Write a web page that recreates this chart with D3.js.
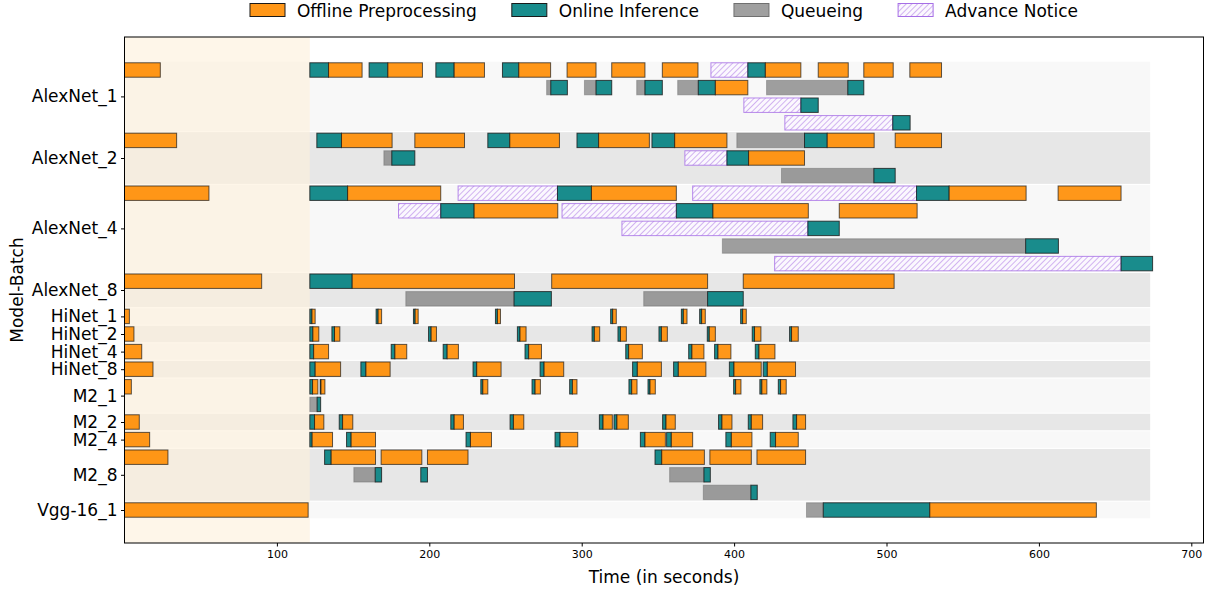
<!DOCTYPE html>
<html>
<head>
<meta charset="utf-8">
<script src="https://cdn.jsdelivr.net/npm/d3@7"></script>
<style>
  body { margin: 0; background: #fff; }
  svg { font-family: "DejaVu Sans", sans-serif; }
</style>
</head>
<body>
<script>
// Model-batch groups and how many lanes each one uses
const groups = ["AlexNet_1", "AlexNet_2", "AlexNet_4", "AlexNet_8", "HiNet_1", "HiNet_2", "HiNet_4", "HiNet_8", "M2_1", "M2_2", "M2_4", "M2_8", "Vgg-16_1"];
const laneCounts = [4, 3, 5, 2, 1, 1, 1, 1, 2, 1, 1, 3, 1];
const xTicks = [100, 200, 300, 400, 500, 600, 700];
const warmupEnd = 121.6;
const bandEnd = 673;

// [group, lane, start, end]
const offline = [
  ["AlexNet_1", 0, 0, 23.5], ["AlexNet_1", 0, 133.9, 155.9], ["AlexNet_1", 0, 172.8, 195.5], ["AlexNet_1", 0, 216.3, 236.2],
  ["AlexNet_1", 0, 258.7, 279.6], ["AlexNet_1", 0, 290.4, 309.4], ["AlexNet_1", 0, 319.7, 341.5], ["AlexNet_1", 0, 352.9, 376.3],
  ["AlexNet_1", 0, 420.5, 443.8], ["AlexNet_1", 0, 455.2, 474.9], ["AlexNet_1", 0, 485.1, 504.4], ["AlexNet_1", 0, 515.3, 536.1],
  ["AlexNet_1", 1, 387.7, 409.0],
  ["AlexNet_2", 0, 0, 34.2], ["AlexNet_2", 0, 142.4, 175.6], ["AlexNet_2", 0, 190.5, 223.1], ["AlexNet_2", 0, 252.8, 285.4],
  ["AlexNet_2", 0, 311.1, 344.4], ["AlexNet_2", 0, 361.0, 395.3], ["AlexNet_2", 0, 461.1, 491.9], ["AlexNet_2", 0, 505.7, 536.1],
  ["AlexNet_2", 1, 409.5, 446.2],
  ["AlexNet_4", 0, 0, 55.4], ["AlexNet_4", 0, 146.4, 207.5], ["AlexNet_4", 0, 306.4, 362.1], ["AlexNet_4", 0, 541.1, 591.6],
  ["AlexNet_4", 0, 612.6, 653.9],
  ["AlexNet_4", 1, 229.4, 284.3], ["AlexNet_4", 1, 386.1, 448.7], ["AlexNet_4", 1, 469.0, 520.1],
  ["AlexNet_8", 0, 0, 90.0], ["AlexNet_8", 0, 149.4, 255.9], ["AlexNet_8", 0, 280.3, 382.6], ["AlexNet_8", 0, 406.0, 505.0],
  ["HiNet_1", 0, 0, 3.2], ["HiNet_1", 0, 123.0, 125.1], ["HiNet_1", 0, 166.4, 168.7], ["HiNet_1", 0, 190.7, 192.7],
  ["HiNet_1", 0, 244.7, 246.7], ["HiNet_1", 0, 320.3, 322.7], ["HiNet_1", 0, 366.7, 369.1], ["HiNet_1", 0, 378.7, 381.1],
  ["HiNet_1", 0, 405.6, 408.0],
  ["HiNet_2", 0, 0, 6.2], ["HiNet_2", 0, 123.6, 127.5], ["HiNet_2", 0, 137.8, 141.3], ["HiNet_2", 0, 201.2, 204.7],
  ["HiNet_2", 0, 259.5, 263.5], ["HiNet_2", 0, 308.3, 311.8], ["HiNet_2", 0, 325.4, 329.3], ["HiNet_2", 0, 352.3, 356.2],
  ["HiNet_2", 0, 383.7, 387.7], ["HiNet_2", 0, 413.4, 417.6], ["HiNet_2", 0, 437.7, 442.1],
  ["HiNet_4", 0, 0, 11.3], ["HiNet_4", 0, 124.1, 133.9], ["HiNet_4", 0, 177.4, 185.2], ["HiNet_4", 0, 211.7, 219.1],
  ["HiNet_4", 0, 265.2, 273.6], ["HiNet_4", 0, 330.8, 339.8], ["HiNet_4", 0, 372.3, 380.2], ["HiNet_4", 0, 389.4, 397.9],
  ["HiNet_4", 0, 416.3, 426.8],
  ["HiNet_8", 0, 0, 18.7], ["HiNet_8", 0, 125.1, 141.8], ["HiNet_8", 0, 158.4, 174.3], ["HiNet_8", 0, 231.1, 247.1],
  ["HiNet_8", 0, 275.3, 288.2], ["HiNet_8", 0, 336.5, 352.3], ["HiNet_8", 0, 363.4, 381.5], ["HiNet_8", 0, 399.9, 417.8],
  ["HiNet_8", 0, 421.8, 440.3],
  ["M2_1", 0, 0, 4.5], ["M2_1", 0, 123.4, 126.9], ["M2_1", 0, 128.9, 131.5], ["M2_1", 0, 235.1, 238.4],
  ["M2_1", 0, 269.4, 272.9], ["M2_1", 0, 293.9, 296.9], ["M2_1", 0, 332.8, 336.3], ["M2_1", 0, 344.8, 348.3],
  ["M2_1", 0, 401.0, 404.5], ["M2_1", 0, 418.2, 421.5], ["M2_1", 0, 430.5, 434.2],
  ["M2_2", 0, 0, 9.7], ["M2_2", 0, 124.7, 130.8], ["M2_2", 0, 143.1, 149.8], ["M2_2", 0, 216.3, 222.4],
  ["M2_2", 0, 255.2, 262.0], ["M2_2", 0, 314.0, 320.1], ["M2_2", 0, 323.1, 330.6], ["M2_2", 0, 355.3, 361.4],
  ["M2_2", 0, 392.0, 398.6], ["M2_2", 0, 411.3, 418.7], ["M2_2", 0, 441.0, 446.9],
  ["M2_4", 0, 0, 16.5], ["M2_4", 0, 123.1, 136.5], ["M2_4", 0, 148.7, 164.7], ["M2_4", 0, 227.0, 240.8],
  ["M2_4", 0, 285.8, 297.4], ["M2_4", 0, 341.5, 354.9], ["M2_4", 0, 358.8, 372.8], ["M2_4", 0, 398.2, 411.7],
  ["M2_4", 0, 427.2, 442.1],
  ["M2_8", 0, 0, 28.5], ["M2_8", 0, 135.6, 164.7], ["M2_8", 0, 168.4, 195.1], ["M2_8", 0, 198.8, 225.4],
  ["M2_8", 0, 352.5, 380.5], ["M2_8", 0, 384.1, 411.3], ["M2_8", 0, 415.0, 446.9],
  ["Vgg-16_1", 0, 0, 120.5], ["Vgg-16_1", 0, 528.4, 637.7]
];

const online = [
  ["AlexNet_1", 0, 121.6, 133.9], ["AlexNet_1", 0, 160.5, 172.8], ["AlexNet_1", 0, 204.3, 216.3], ["AlexNet_1", 0, 248.0, 258.7],
  ["AlexNet_1", 0, 409.0, 420.5],
  ["AlexNet_1", 1, 279.7, 290.6], ["AlexNet_1", 1, 309.4, 319.7], ["AlexNet_1", 1, 341.5, 352.9], ["AlexNet_1", 1, 376.5, 387.7],
  ["AlexNet_1", 1, 474.6, 485.1],
  ["AlexNet_1", 2, 443.8, 455.2], ["AlexNet_1", 3, 504.1, 515.5],
  ["AlexNet_2", 0, 126.2, 142.4], ["AlexNet_2", 0, 238.4, 252.8], ["AlexNet_2", 0, 296.9, 311.1], ["AlexNet_2", 0, 346.1, 361.0],
  ["AlexNet_2", 0, 446.2, 461.1],
  ["AlexNet_2", 1, 175.4, 190.5], ["AlexNet_2", 1, 395.3, 409.5], ["AlexNet_2", 2, 491.7, 505.7],
  ["AlexNet_4", 0, 121.6, 146.4], ["AlexNet_4", 0, 284.1, 306.4], ["AlexNet_4", 0, 519.7, 541.1],
  ["AlexNet_4", 1, 207.5, 229.4], ["AlexNet_4", 1, 362.1, 386.1],
  ["AlexNet_4", 2, 448.4, 469.0], ["AlexNet_4", 3, 591.3, 612.8], ["AlexNet_4", 4, 653.9, 674.6],
  ["AlexNet_8", 0, 121.6, 149.4], ["AlexNet_8", 1, 255.6, 280.1], ["AlexNet_8", 1, 382.6, 406.0],
  ["HiNet_1", 0, 121.6, 123.0], ["HiNet_1", 0, 165.1, 166.4], ["HiNet_1", 0, 189.6, 190.7], ["HiNet_1", 0, 243.4, 244.7],
  ["HiNet_1", 0, 319.0, 320.3], ["HiNet_1", 0, 365.4, 366.7], ["HiNet_1", 0, 377.4, 378.7], ["HiNet_1", 0, 404.3, 405.6],
  ["HiNet_2", 0, 121.6, 123.6], ["HiNet_2", 0, 136.1, 137.8], ["HiNet_2", 0, 199.5, 201.2], ["HiNet_2", 0, 257.8, 259.5],
  ["HiNet_2", 0, 306.8, 308.3], ["HiNet_2", 0, 323.8, 325.4], ["HiNet_2", 0, 350.7, 352.3], ["HiNet_2", 0, 382.4, 383.7],
  ["HiNet_2", 0, 411.9, 413.4], ["HiNet_2", 0, 436.4, 437.7],
  ["HiNet_4", 0, 121.6, 124.1], ["HiNet_4", 0, 175.0, 177.4], ["HiNet_4", 0, 209.1, 211.7], ["HiNet_4", 0, 262.8, 265.2],
  ["HiNet_4", 0, 328.9, 330.8], ["HiNet_4", 0, 370.2, 372.3], ["HiNet_4", 0, 387.2, 389.4], ["HiNet_4", 0, 413.9, 416.3],
  ["HiNet_8", 0, 121.6, 125.1], ["HiNet_8", 0, 155.1, 158.4], ["HiNet_8", 0, 228.7, 231.1], ["HiNet_8", 0, 272.7, 275.3],
  ["HiNet_8", 0, 333.4, 336.5], ["HiNet_8", 0, 360.3, 363.4], ["HiNet_8", 0, 396.9, 399.9], ["HiNet_8", 0, 419.1, 421.8],
  ["M2_1", 0, 121.6, 123.4], ["M2_1", 0, 128.4, 128.9], ["M2_1", 0, 233.8, 235.1], ["M2_1", 0, 267.4, 269.4],
  ["M2_1", 0, 292.1, 293.9], ["M2_1", 0, 331.0, 332.8], ["M2_1", 0, 343.5, 344.8], ["M2_1", 0, 399.7, 401.0],
  ["M2_1", 0, 416.9, 418.2], ["M2_1", 0, 429.0, 430.5], ["M2_1", 1, 126.4, 128.7],
  ["M2_2", 0, 121.6, 124.7], ["M2_2", 0, 140.9, 143.1], ["M2_2", 0, 214.1, 216.3], ["M2_2", 0, 253.0, 255.2],
  ["M2_2", 0, 311.6, 314.0], ["M2_2", 0, 321.2, 323.1], ["M2_2", 0, 353.1, 355.3], ["M2_2", 0, 389.8, 392.0],
  ["M2_2", 0, 409.3, 411.3], ["M2_2", 0, 438.6, 441.0],
  ["M2_4", 0, 121.6, 123.1], ["M2_4", 0, 145.7, 148.7], ["M2_4", 0, 224.1, 227.0], ["M2_4", 0, 282.5, 285.8],
  ["M2_4", 0, 338.5, 341.5], ["M2_4", 0, 355.7, 358.8], ["M2_4", 0, 394.6, 398.2], ["M2_4", 0, 423.7, 427.2],
  ["M2_8", 0, 131.3, 135.6], ["M2_8", 0, 348.1, 352.5],
  ["M2_8", 1, 164.5, 168.7], ["M2_8", 1, 194.4, 198.8], ["M2_8", 1, 380.2, 384.4], ["M2_8", 2, 411.0, 415.2],
  ["Vgg-16_1", 0, 458.5, 528.4]
];

const queueing = [
  ["AlexNet_1", 1, 277.0, 279.7], ["AlexNet_1", 1, 301.8, 309.4], ["AlexNet_1", 1, 336.1, 341.5], ["AlexNet_1", 1, 363.0, 376.5],
  ["AlexNet_1", 1, 421.3, 474.6],
  ["AlexNet_2", 0, 401.8, 446.2], ["AlexNet_2", 1, 170.2, 175.4], ["AlexNet_2", 2, 431.1, 491.7],
  ["AlexNet_4", 3, 392.3, 591.3],
  ["AlexNet_8", 1, 184.6, 255.6], ["AlexNet_8", 1, 340.7, 382.6],
  ["M2_1", 1, 121.6, 126.4],
  ["M2_8", 1, 150.5, 164.5], ["M2_8", 1, 357.7, 380.2], ["M2_8", 2, 379.8, 411.0],
  ["Vgg-16_1", 0, 447.5, 458.5]
];

const notice = [
  ["AlexNet_1", 0, 384.8, 409.0], ["AlexNet_1", 2, 406.4, 443.8], ["AlexNet_1", 3, 433.3, 504.1],
  ["AlexNet_2", 1, 367.7, 395.3],
  ["AlexNet_4", 0, 218.9, 284.1], ["AlexNet_4", 0, 372.8, 519.7],
  ["AlexNet_4", 1, 179.8, 207.5], ["AlexNet_4", 1, 287.1, 362.1],
  ["AlexNet_4", 2, 326.4, 448.4], ["AlexNet_4", 4, 426.6, 653.9]
];

const W = 1211, H = 592;
const margin = { top: 37, right: 7.5, bottom: 49, left: 124.5 };
const width = W - margin.left - margin.right;
const height = H - margin.top - margin.bottom;

// first global lane index of each group
const laneOffset = {};
let acc = 0;
groups.forEach((g, i) => { laneOffset[g] = acc; acc += laneCounts[i]; });
const totalLanes = acc;

const svg = d3.select("body").append("svg")
  .attr("width", W)
  .attr("height", H);

const defs = svg.append("defs");
const pat = defs.append("pattern")
  .attr("id", "hatch")
  .attr("patternUnits", "userSpaceOnUse")
  .attr("width", 4)
  .attr("height", 4)
  .attr("patternTransform", "rotate(45)");
pat.append("rect").attr("width", 4).attr("height", 4).attr("fill", "#fbf8fe");
pat.append("line")
  .attr("x1", 0).attr("y1", 0).attr("x2", 0).attr("y2", 4)
  .attr("stroke", "#bf96ea").attr("stroke-width", 1.4);

const g = svg.append("g")
  .attr("transform", `translate(${margin.left},${margin.top})`);

const x = d3.scaleLinear()
  .domain([0, 708])
  .range([0, width]);

const y = d3.scaleLinear()
  .domain([-1.875, totalLanes - 1 + 1.875])
  .range([0, height]);

const laneH = y(1) - y(0);
const barH = laneH * 0.82;
const yLane = d => y(laneOffset[d[0]] + d[1]);

// alternating group bands
g.selectAll(".band")
  .data(groups)
  .enter().append("rect")
  .attr("class", "band")
  .attr("x", x(0))
  .attr("width", x(bandEnd) - x(0))
  .attr("y", (d, i) => y(laneOffset[d] - 0.47))
  .attr("height", (d, i) => y(laneCounts[i] - 0.06) - y(0))
  .attr("fill", (d, i) => i % 2 === 0 ? "#f8f8f8" : "#e7e7e7");

// warm-up span
g.append("rect")
  .attr("x", x(0))
  .attr("y", 0)
  .attr("width", x(warmupEnd) - x(0))
  .attr("height", height)
  .attr("fill", "#fdf0dc")
  .attr("opacity", 0.62);

function drawBars(data, cls, fill, stroke, fillOp, strokeOp) {
  g.selectAll("." + cls)
    .data(data)
    .enter().append("rect")
    .attr("class", cls)
    .attr("x", d => x(d[2]))
    .attr("width", d => Math.max(0.5, x(d[3]) - x(d[2])))
    .attr("y", d => yLane(d) - barH / 2)
    .attr("height", barH)
    .attr("fill", fill)
    .attr("fill-opacity", fillOp)
    .attr("stroke", stroke)
    .attr("stroke-opacity", strokeOp)
    .attr("stroke-width", 1);
}

drawBars(queueing, "queue", "#808080", "#707070", 0.75, 0.5);
drawBars(notice, "notice", "url(#hatch)", "#a66ee6", 1, 0.8);
drawBars(online, "online", "#008080", "#1a1a1a", 0.9, 0.8);
drawBars(offline, "offline", "#ff8c00", "#1a1a1a", 0.9, 0.7);

// axes
const xAxis = g.append("g")
  .attr("transform", `translate(0,${height})`)
  .call(d3.axisBottom(x).tickValues(xTicks).tickSize(3.5).tickPadding(4));
xAxis.selectAll("text").attr("font-size", 11).attr("fill", "#000").attr("font-family", "DejaVu Sans");
xAxis.select(".domain").remove();

const yAxis = g.append("g")
  .call(d3.axisLeft(y)
    .tickValues(groups.map((d, i) => laneOffset[d] + (laneCounts[i] - 1) / 2))
    .tickFormat((d, i) => groups[i])
    .tickSize(3.5).tickPadding(3.5));
yAxis.selectAll("text").attr("font-size", 17).attr("fill", "#000").attr("font-family", "DejaVu Sans");
yAxis.select(".domain").remove();

g.append("rect")
  .attr("width", width)
  .attr("height", height)
  .attr("fill", "none")
  .attr("stroke", "#000")
  .attr("stroke-width", 1);

svg.append("text")
  .attr("x", margin.left + width / 2)
  .attr("y", 583)
  .attr("text-anchor", "middle")
  .attr("font-size", 17)
  .text("Time (in seconds)");

svg.append("text")
  .attr("transform", `translate(23,${margin.top + height / 2}) rotate(-90)`)
  .attr("text-anchor", "middle")
  .attr("font-size", 17)
  .text("Model-Batch");

// legend
const legendItems = [
  { label: "Offline Preprocessing", fill: "#ff8c00", stroke: "#1a1a1a", op: 0.9 },
  { label: "Online Inference", fill: "#008080", stroke: "#1a1a1a", op: 0.9 },
  { label: "Queueing", fill: "#808080", stroke: "#707070", op: 0.75 },
  { label: "Advance Notice", fill: "url(#hatch)", stroke: "#a66ee6", op: 1 }
];
const legend = svg.append("g");
let lx = 0;
const itemGap = 35;
legendItems.forEach(it => {
  const item = legend.append("g").attr("transform", `translate(${lx},0)`);
  item.append("rect")
    .attr("x", 0).attr("y", 3.5).attr("width", 35).attr("height", 13)
    .attr("fill", it.fill).attr("fill-opacity", it.op)
    .attr("stroke", it.stroke).attr("stroke-width", 1);
  const t = item.append("text")
    .attr("x", 47).attr("y", 16.5)
    .attr("font-size", 17)
    .text(it.label);
  lx += 47 + t.node().getComputedTextLength() + itemGap;
});
const legendW = lx - itemGap;
legend.attr("transform", `translate(${margin.left + width / 2 - legendW / 2},0)`);
</script>
</body>
</html>
